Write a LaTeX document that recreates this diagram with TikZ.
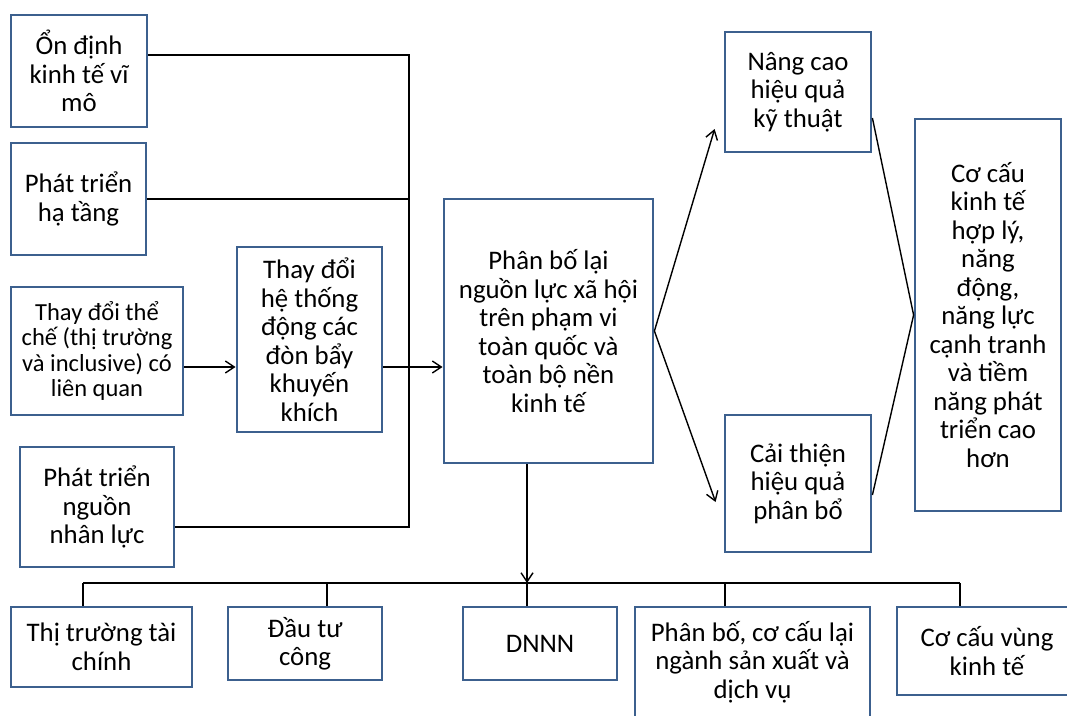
\documentclass[tikz,border=0pt]{standalone}
\usepackage{fontspec}
\setmainfont{Carlito}
\usepackage{tikz}
\usetikzlibrary{arrows.meta,calc}
\definecolor{boxblue}{RGB}{60,96,142}

\begin{document}
\begin{tikzpicture}[x=1pt, y=-1pt,
  box/.style={draw=boxblue, line width=2.8pt, fill=white, inner sep=0pt, align=center,
              font=\fontsize{26.8}{28.5}\selectfont},
  link/.style={line width=1.4pt, black},
  arr/.style={link, -{Straight Barb[length=9pt,width=12pt]}}]
\useasboundingbox (0,0) rectangle (1067,715);
\fill[white] (0,0) rectangle (1067,715);

% ===== Left column: inputs =====
\node[box, minimum width=136pt, minimum height=112pt] (stab) at (79,71) {Ổn định\\kinh tế vĩ\\mô};
\node[box, minimum width=135pt, minimum height=112pt] (infra) at (78.5,199) {Phát triển\\hạ tầng};
\node[box, minimum width=172pt, minimum height=128pt, font=\fontsize{24.5}{25.5}\selectfont]
      (inst) at (97,351) {Thay đổi thể\\chế (thị trường\\và inclusive) có\\liên quan};
\node[box, minimum width=154pt, minimum height=120pt] (hr) at (97,507) {Phát triển\\nguồn\\nhân lực};

% Incentive levers
\node[box, minimum width=145pt, minimum height=185pt] (lever) at (309.5,339.5)
      {Thay đổi\\hệ thống\\động các\\đòn bẩy\\khuyến\\khích};

% ===== Centre: reallocation =====
\node[box, minimum width=209pt, minimum height=264pt] (realloc) at (548.5,331)
      {Phân bố lại\\nguồn lực xã hội\\trên phạm vi\\toàn quốc và\\toàn bộ nền\\kinh tế};

% ===== Right: efficiency and outcome =====
\node[box, minimum width=146pt, minimum height=120pt] (tech) at (798,92) {Nâng cao\\hiệu quả\\kỹ thuật};
\node[box, minimum width=146pt, minimum height=137pt] (alloc) at (798,483.5) {Cải thiện\\hiệu quả\\phân bổ};
\node[box, minimum width=146pt, minimum height=392pt] (struct) at (988,315)
      {Cơ cấu\\kinh tế\\hợp lý,\\năng\\động,\\năng lực\\cạnh tranh\\và tiềm\\năng phát\\triển cao\\hơn};

% ===== Bottom row: channels =====
\node[box, minimum width=181pt, minimum height=80pt] (fin) at (101.5,647) {Thị trường tài\\chính};
\node[box, minimum width=154pt, minimum height=73pt] (pubinv) at (305,643.5) {Đầu tư\\công};
\node[box, minimum width=154pt, minimum height=73pt] (soe) at (540,643.5) {DNNN};
\node[box, minimum width=235pt, minimum height=110pt] (sector) at (752.5,662)
      {Phân bố, cơ cấu lại\\ngành sản xuất và\\dịch vụ};
\node[box, minimum width=180pt, minimum height=88pt] (region) at (987,651) {Cơ cấu vùng\\kinh tế};

% Bracket joining the inputs
\coordinate (jtop) at (409,55);
\coordinate (jbot) at (409,527);
\draw[link] ([yshift=16pt]stab.east) -- (jtop) -- (jbot) -- ([yshift=-20pt]hr.east);
\draw[link] (infra.east) -- (infra.east -| jtop);

% Arrows through the levers
\coordinate (a1) at ([yshift=-16pt]inst.east);
\coordinate (a2) at (a1 -| lever.east);
\draw[arr] (a1) -- (a1 -| lever.west);
\draw[arr] (a2) -- (a2 -| realloc.west);

% Fan out to the two efficiencies
\draw[arr] (realloc.east) -- ([xshift=-9pt,yshift=-37pt]tech.west);
\draw[arr] (realloc.east) -- ([xshift=-8pt,yshift=-18.5pt]alloc.west);
\draw[link] ([yshift=-26pt]tech.east) -- (struct.west);
\draw[link] ([yshift=-11.5pt]alloc.east) -- (struct.west);

% Down to the bus
\coordinate (dn) at ([xshift=-21.5pt]realloc.south);
\coordinate (bus) at (527,583);
\draw[arr] (dn) -- (dn |- bus);
\foreach \n/\dx in {fin/-18.5, pubinv/22, soe/-13, sector/-27.5, region/-27} {
  \coordinate (s\n) at ([xshift=\dx pt]\n.north);
  \draw[link] (s\n) -- (s\n |- bus);
}
\draw[link] (sfin |- bus) -- (sregion |- bus);

\end{tikzpicture}
\end{document}
